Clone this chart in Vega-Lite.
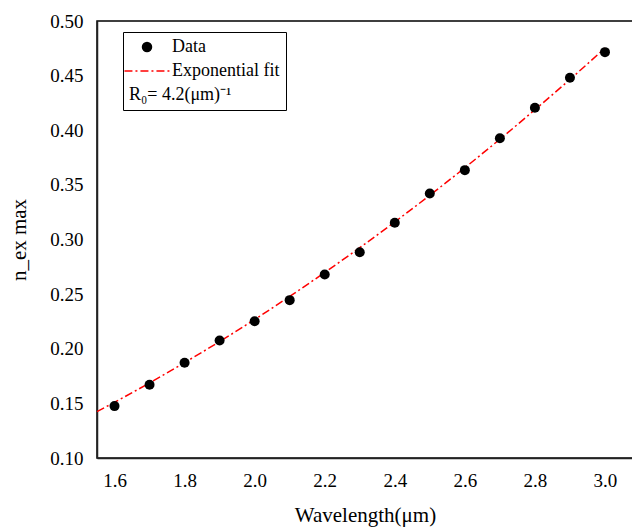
{
  "$schema": "https://vega.github.io/schema/vega-lite/v6.json",
  "autosize": {"type": "none"},
  "padding": {"left": 97, "top": 21, "right": 0, "bottom": 69},
  "width": 536,
  "height": 437,
  "background": "white",
  "config": {
    "view": {"stroke": "black", "strokeWidth": 1.5},
    "font": "Times New Roman",
    "axis": {
      "labelFont": "Times New Roman",
      "titleFont": "Times New Roman",
      "labelColor": "black",
      "titleColor": "black",
      "titleFontWeight": "normal",
      "domainColor": "#222222",
      "domainWidth": 1.5,
      "ticks": false,
      "grid": false
    },
    "legend": {
      "labelFont": "Times New Roman",
      "titleFont": "Times New Roman"
    }
  },
  "datasets": {
    "points": [
      {"wavelength": 1.6, "n": 0.1475, "series": "Data"},
      {"wavelength": 1.7, "n": 0.1670, "series": "Data"},
      {"wavelength": 1.8, "n": 0.1872, "series": "Data"},
      {"wavelength": 1.9, "n": 0.2076, "series": "Data"},
      {"wavelength": 2.0, "n": 0.2252, "series": "Data"},
      {"wavelength": 2.1, "n": 0.2445, "series": "Data"},
      {"wavelength": 2.2, "n": 0.2680, "series": "Data"},
      {"wavelength": 2.3, "n": 0.2884, "series": "Data"},
      {"wavelength": 2.4, "n": 0.3153, "series": "Data"},
      {"wavelength": 2.5, "n": 0.3421, "series": "Data"},
      {"wavelength": 2.6, "n": 0.3635, "series": "Data"},
      {"wavelength": 2.7, "n": 0.3927, "series": "Data"},
      {"wavelength": 2.8, "n": 0.4206, "series": "Data"},
      {"wavelength": 2.9, "n": 0.4480, "series": "Data"},
      {"wavelength": 3.0, "n": 0.4715, "series": "Data"}
    ],
    "fit": [
      {"wavelength": 1.55, "n": 0.1425, "series": "Exponential fit"},
      {"wavelength": 1.6, "n": 0.1510, "series": "Exponential fit"},
      {"wavelength": 1.7, "n": 0.1687, "series": "Exponential fit"},
      {"wavelength": 1.8, "n": 0.1873, "series": "Exponential fit"},
      {"wavelength": 1.9, "n": 0.2066, "series": "Exponential fit"},
      {"wavelength": 2.0, "n": 0.2268, "series": "Exponential fit"},
      {"wavelength": 2.1, "n": 0.2479, "series": "Exponential fit"},
      {"wavelength": 2.2, "n": 0.2698, "series": "Exponential fit"},
      {"wavelength": 2.3, "n": 0.2925, "series": "Exponential fit"},
      {"wavelength": 2.4, "n": 0.3161, "series": "Exponential fit"},
      {"wavelength": 2.5, "n": 0.3405, "series": "Exponential fit"},
      {"wavelength": 2.6, "n": 0.3657, "series": "Exponential fit"},
      {"wavelength": 2.7, "n": 0.3918, "series": "Exponential fit"},
      {"wavelength": 2.8, "n": 0.4188, "series": "Exponential fit"},
      {"wavelength": 2.9, "n": 0.4465, "series": "Exponential fit"},
      {"wavelength": 3.0, "n": 0.4752, "series": "Exponential fit"}
    ]
  },
  "encoding": {
    "x": {
      "field": "wavelength",
      "type": "quantitative",
      "scale": {"domain": [1.55, 3.08], "nice": false, "zero": false},
      "axis": {
        "title": "Wavelength(μm)",
        "values": [1.6, 1.8, 2.0, 2.2, 2.4, 2.6, 2.8, 3.0],
        "format": ".1f",
        "labelFont": "Times New Roman",
        "titleFont": "Times New Roman",
        "labelFontSize": 19,
        "labelPadding": 13,
        "titleFontSize": 21,
        "titlePadding": 14
      }
    },
    "y": {
      "field": "n",
      "type": "quantitative",
      "scale": {"domain": [0.1, 0.5], "nice": false, "zero": false},
      "axis": {
        "title": "n_ex max",
        "values": [0.1, 0.15, 0.2, 0.25, 0.3, 0.35, 0.4, 0.45, 0.5],
        "format": ".2f",
        "labelFont": "Times New Roman",
        "titleFont": "Times New Roman",
        "labelFontSize": 19,
        "labelPadding": 14,
        "titleFontSize": 21,
        "titlePadding": 20
      }
    },
    "color": {
      "field": "series",
      "type": "nominal",
      "scale": {"domain": ["Data", "Exponential fit"], "range": ["black", "red"]},
      "legend": {
        "orient": "none",
        "legendX": 26,
        "legendY": 11,
        "title": "R₀= 4.2(μm)⁻¹",
        "titleOrient": "bottom",
        "titleAnchor": "start",
        "titleFont": "Times New Roman",
        "titleFontSize": 18,
        "titleFontWeight": "normal",
        "titleColor": "black",
        "titlePadding": 6,
        "labelFont": "Times New Roman",
        "labelFontSize": 18,
        "labelColor": "black",
        "labelOffset": 16,
        "symbolOffset": 9,
        "symbolSize": 110,
        "rowPadding": 6,
        "padding": 6,
        "strokeColor": "black",
        "fillColor": "white",
        "encode": {
          "symbols": {
            "update": {
              "shape": {"signal": "datum.value === 'Data' ? 'circle' : 'M-4.3,0H4.3'"},
              "fill": {"signal": "datum.value === 'Data' ? 'black' : 'transparent'"},
              "stroke": {"signal": "datum.value === 'Data' ? 'black' : 'red'"},
              "strokeWidth": {"signal": "datum.value === 'Data' ? 0 : 1.5"},
              "strokeDash": {"signal": "datum.value === 'Data' ? [] : [8, 3, 2, 3]"},
              "opacity": {"value": 1}
            }
          }
        }
      }
    }
  },
  "layer": [
    {
      "data": {"name": "fit"},
      "mark": {"type": "line", "strokeWidth": 1.5, "strokeDash": [8, 3, 2, 3], "interpolate": "monotone"}
    },
    {
      "data": {"name": "points"},
      "mark": {"type": "point", "filled": true, "size": 100, "opacity": 1}
    }
  ]
}
